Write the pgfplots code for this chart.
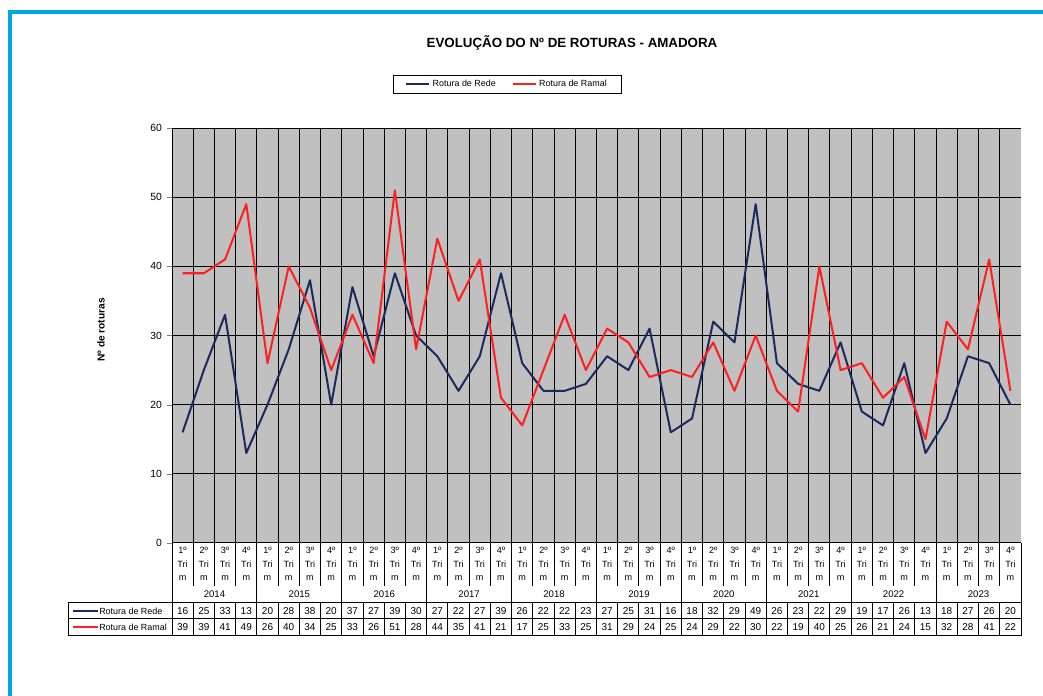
\documentclass[border=0pt]{standalone}
\usepackage{pgfplots}
\pgfplotsset{compat=1.18}
\usepackage{pgfplotstable}
\usepackage{fontspec}
\setmainfont{Liberation Sans}
\definecolor{rede}{HTML}{1B2A5E}
\definecolor{ramal}{HTML}{FF1F1F}
\definecolor{plotbg}{HTML}{C0C0C0}
\definecolor{framec}{HTML}{00A8E0}

\pgfplotstableread{
q rede ramal
1 16 39
2 25 39
3 33 41
4 13 49
5 20 26
6 28 40
7 38 34
8 20 25
9 37 33
10 27 26
11 39 51
12 30 28
13 27 44
14 22 35
15 27 41
16 39 21
17 26 17
18 22 25
19 22 33
20 23 25
21 27 31
22 25 29
23 31 24
24 16 25
25 18 24
26 32 29
27 29 22
28 49 30
29 26 22
30 23 19
31 22 40
32 29 25
33 19 26
34 17 21
35 26 24
36 13 15
37 18 32
38 27 28
39 26 41
40 20 22
}\data

\begin{document}
\begin{tikzpicture}[x=0.75pt,y=0.75pt]
\useasboundingbox (0,0) rectangle (1043,696);
% blue frame
\fill[framec] (8,0) rectangle (12,686);
\fill[framec] (8,682) rectangle (1043,686);
\begin{axis}[
  at={(129pt,114.75pt)}, anchor=south west,
  scale only axis, width=636.75pt, height=311.25pt,
  xmin=0, xmax=40, ymin=0, ymax=60,
  axis background/.style={fill=plotbg},
  axis x line*=bottom, axis y line*=left,
  axis line style={black, line width=0.75pt},
  xtick={1,...,39}, xticklabels={},
  major x tick style={draw=none},
  ytick={0,10,...,60},
  tick align=outside,
  major tick length=4pt,
  xmajorgrids, ymajorgrids,
  grid style={black, line width=0.75pt},
  yticklabel style={font=\fontsize{7.8}{9}\selectfont, xshift=0pt},
  /pgf/number format/assume math mode=true,
  clip=false,
  legend columns=2,
  legend style={at={(rel axis cs:0.395,1.106)}, anchor=center, draw=black, line width=0.6pt,
     font=\fontsize{6.7}{8}\selectfont, inner xsep=9pt, inner ysep=1.5pt,
     /tikz/every even column/.append style={column sep=10pt}},
  legend cell align=left,
]
\addplot[rede, line width=1.5pt, line join=round] table[x expr=\coordindex+0.5, y=rede]{\data};
\addlegendentry{Rotura de Rede}
\addplot[ramal, line width=1.5pt, line join=round] table[x expr=\coordindex+0.5, y=ramal]{\data};
\addlegendentry{Rotura de Ramal}
\end{axis}
% title and y label
\node[font=\bfseries\fontsize{10}{12}\selectfont] at (572,653) {EVOLUÇÃO DO Nº DE ROTURAS - AMADORA};
\node[font=\bfseries\fontsize{7.6}{8}\selectfont, rotate=90] at (101,366) {Nº de roturas};
% table lines
\begin{scope}[line width=0.75pt]
\foreach \i in {0,...,40} {
  \pgfmathtruncatemacro\r{mod(\i,4)}
  \ifnum\r=0
    \draw ({172+21.225*\i},153) -- ({172+21.225*\i},60);
  \else
    \draw ({172+21.225*\i},153) -- ({172+21.225*\i},110);
    \draw ({172+21.225*\i},93) -- ({172+21.225*\i},60);
  \fi
}
\draw (68,93) -- (1021,93);
\draw (68,77) -- (1021,77);
\draw (68,60) -- (1021,60);
\draw (68,93) -- (68,60);
\end{scope}
% legend keys in table
\draw[rede, line width=1.5pt] (73,85) -- (98,85);
\node[anchor=west, inner sep=0pt, font=\fontsize{6.7}{8}\selectfont] at (99,85) {Rotura de Rede};
\draw[ramal, line width=1.5pt] (73,69) -- (98,69);
\node[anchor=west, inner sep=0pt, font=\fontsize{6.7}{8}\selectfont] at (99,69) {Rotura de Ramal};
% quarter labels and values
\foreach \i in {0,...,39} {
  \pgfmathtruncatemacro\q{mod(\i,4)+1}
  \node[align=center, inner sep=0pt, font=\fontsize{6.8}{10}\selectfont] at ({172+21.225*(\i+0.5)},132) {\q º\\Tri\\m};
  \pgfplotstablegetelem{\i}{rede}\of\data
  \node[inner sep=0pt, font=\fontsize{7.5}{8}\selectfont] at ({172+21.225*(\i+0.5)},85) {\pgfplotsretval};
  \pgfplotstablegetelem{\i}{ramal}\of\data
  \node[inner sep=0pt, font=\fontsize{7.5}{8}\selectfont] at ({172+21.225*(\i+0.5)},69) {\pgfplotsretval};
}
\foreach \y [count=\k from 0] in {2014,2015,2016,2017,2018,2019,2020,2021,2022,2023} {
  \node[inner sep=0pt, font=\fontsize{7.2}{8}\selectfont] at ({172+21.225*(4*\k+2)},102) {\y};
}
\end{tikzpicture}
\end{document}
